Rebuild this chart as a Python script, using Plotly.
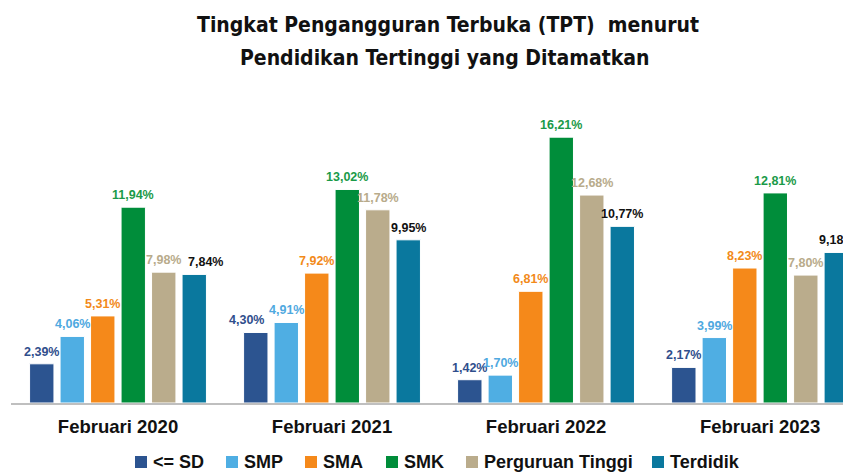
import plotly.graph_objects as go

categories = ["Februari 2020", "Februari 2021", "Februari 2022", "Februari 2023"]
series_names = ["<= SD", "SMP", "SMA", "SMK", "Perguruan Tinggi", "Terdidik"]
sd = [2.39, 4.30, 1.42, 2.17]
smp = [4.06, 4.91, 1.70, 3.99]
sma = [5.31, 7.92, 6.81, 8.23]
smk = [11.94, 13.02, 16.21, 12.81]
pt = [7.98, 11.78, 12.68, 7.80]
terdidik = [7.84, 9.95, 10.77, 9.18]

series_values = [sd, smp, sma, smk, pt, terdidik]
bar_colors = ["#2c5490", "#4faee3", "#f5891a", "#008d3a", "#baac8c", "#0a789e"]
label_colors = ["#2f4e8c", "#4fa9e0", "#f28a1a", "#1a9a48", "#b8ab8b", "#111111"]

# figure geometry (page has an 8px body margin)
W, H = 843, 464
T, B, L, R = 108, 69, 3, 0
XR = [-0.5, 3.425]
BARGAP, GROUPGAP = 0.145, 0.2
cat_px = (W - L - R) / (XR[1] - XR[0])
slot_px = cat_px * (1 - BARGAP) / len(series_names)
# manual label nudges (series index, category index) -> px
nudge = {(5, 0): 11, (0, 1): -9}

plot_h = H - T - B
plot_w = W - L - R
def py(ypix):
    return (H - B - ypix) / plot_h
def px(xpix):
    return (xpix - L) / plot_w

fig = go.Figure()
for si, (name, vals, bc, lc) in enumerate(zip(series_names, series_values, bar_colors, label_colors)):
    fig.add_trace(go.Bar(
        x=categories, y=vals, name=name,
        marker=dict(color=bc, line=dict(color="white", width=1)),
        showlegend=False,
    ))
    for ci, (c, v) in enumerate(zip(categories, vals)):
        fig.add_annotation(
            x=c, y=v, xref="x", yref="y", showarrow=False,
            text=f"{v:.2f}".replace(".", ",") + "%",
            xanchor="center", yanchor="bottom", yshift=3,
            xshift=(si - 2.5) * slot_px + nudge.get((si, ci), 0),
            font=dict(family="Liberation Sans", size=12.5, color=lc, weight="bold"),
        )

title_font = dict(family="DejaVu Sans Condensed, Liberation Sans", size=21, color="#111111", weight="bold")
fig.add_annotation(text="Tingkat Pengangguran Terbuka (TPT)  menurut", x=px(440), xref="paper", xanchor="center",
                   y=py(17), yref="paper", yanchor="middle", showarrow=False, font=title_font)
fig.add_annotation(text="Pendidikan Tertinggi yang Ditamatkan", x=px(436.5), xref="paper", xanchor="center",
                   y=py(50), yref="paper", yanchor="middle", showarrow=False, font=title_font)

# legend built from series names and colours (page px positions -8)
leg_square_x = [127, 218, 297, 378, 458, 644]
leg_y = 454
for name, col, sx in zip(series_names, bar_colors, leg_square_x):
    fig.add_shape(type="rect", xref="paper", yref="paper",
                  x0=px(sx), x1=px(sx + 12), y0=py(leg_y + 6), y1=py(leg_y - 6),
                  fillcolor=col, line=dict(width=0))
    fig.add_annotation(text=name, x=px(sx + 16), xref="paper", xanchor="left",
                       y=py(leg_y), yref="paper", yanchor="middle", showarrow=False,
                       font=dict(family="Liberation Sans", size=18, color="#111111", weight="bold"))

fig.update_layout(
    width=W, height=H,
    paper_bgcolor="white", plot_bgcolor="white",
    margin=dict(l=L, r=R, t=T, b=B),
    barmode="group", bargap=BARGAP, bargroupgap=GROUPGAP,
    showlegend=False,
)

fig.update_xaxes(range=XR, showline=True, linecolor="#bfbfbf", linewidth=2,
                 ticks="", showgrid=False, ticklabelstandoff=6,
                 tickfont=dict(family="Liberation Sans", size=18.5, color="#111111", weight="bold"))
fig.update_yaxes(range=[0, 17.5], visible=False, showgrid=False, zeroline=False)

fig.write_html("out.html")
